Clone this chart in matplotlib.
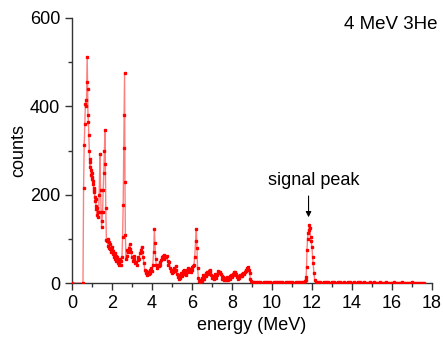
import matplotlib
matplotlib.use("Agg")
import matplotlib.pyplot as plt
from matplotlib.ticker import MultipleLocator

plt.rcParams['font.family'] = ['Liberation Sans', 'DejaVu Sans']

# ---- data ----
energy_low = [0.00, 0.55, 0.58, 0.61, 0.64, 0.67, 0.70, 0.72, 0.74, 0.76, 0.78, 0.80, 0.82, 0.84,
              0.86, 0.88, 0.90, 0.92, 0.94, 0.96, 0.98, 1.00, 1.02, 1.04, 1.06, 1.08, 1.10,
              1.12, 1.14, 1.16, 1.18, 1.20, 1.22, 1.24, 1.26, 1.28, 1.30, 1.33, 1.36, 1.40,
              1.43, 1.46, 1.48, 1.50, 1.53, 1.56, 1.59, 1.62, 1.65, 1.67, 1.69, 1.72, 1.75,
              1.78, 1.80, 1.83, 1.86, 1.89, 1.92, 1.95, 1.98, 2.01, 2.04, 2.07, 2.10, 2.13,
              2.16, 2.19, 2.22, 2.25, 2.28, 2.31, 2.34, 2.37, 2.40, 2.43, 2.46, 2.50, 2.53,
              2.56, 2.59, 2.61, 2.63, 2.65, 2.67, 2.70]
counts_low = [0, 0, 215, 312, 360, 405, 415, 400, 455, 512, 440, 380, 365, 335,
              300, 280, 262, 275, 255, 245, 250, 235, 240, 225, 230, 215, 205,
              210, 195, 185, 190, 175, 168, 155, 170, 160, 150, 160, 200, 292,
              210, 160, 127, 140, 160, 210, 250, 300, 346, 270, 170, 97, 95,
              100, 85, 92, 80, 88, 78, 70, 82, 75, 65, 72, 60, 68,
              55, 62, 50, 58, 45, 52, 40, 48, 55, 42, 50, 60, 105,
              177, 305, 380, 476, 229, 109, 55]

energy_mid = [2.73, 2.76, 2.80, 2.84, 2.88, 2.92, 2.96, 3.00, 3.04, 3.08, 3.12, 3.16, 3.20,
              3.24, 3.28, 3.32, 3.36, 3.40, 3.44, 3.48, 3.52, 3.56, 3.60, 3.64, 3.68, 3.72,
              3.76, 3.80, 3.84, 3.88, 3.92, 3.96, 4.00, 4.04, 4.08, 4.12, 4.15, 4.18, 4.22,
              4.26, 4.30, 4.34, 4.38, 4.42, 4.46, 4.50, 4.54, 4.58, 4.62, 4.66, 4.70, 4.74,
              4.78, 4.82, 4.86, 4.90, 4.94, 4.98, 5.02, 5.06, 5.10, 5.14, 5.18, 5.22, 5.26,
              5.30, 5.34, 5.38, 5.42, 5.46, 5.50, 5.54, 5.58, 5.62, 5.66, 5.70, 5.74, 5.78,
              5.82, 5.86, 5.90, 5.94, 5.98, 6.02, 6.06, 6.10, 6.14, 6.18, 6.22, 6.25, 6.28,
              6.32, 6.36]
counts_mid = [62, 75, 70, 80, 88, 78, 70, 58, 50, 62, 55, 45, 48,
              40, 52, 60, 55, 68, 75, 82, 70, 58, 45, 30, 22, 28,
              18, 25, 20, 30, 22, 35, 28, 40, 70, 122, 90, 55, 40,
              35, 42, 38, 48, 40, 52, 58, 62, 55, 64, 60, 58, 62,
              50, 42, 48, 35, 28, 22, 30, 25, 35, 28, 38, 30, 20,
              14, 10, 18, 12, 22, 16, 28, 20, 30, 22, 18, 30, 25,
              35, 28, 32, 26, 36, 30, 38, 42, 60, 95, 122, 80, 35,
              12, 5]

energy_tail = [6.40, 6.44, 6.48, 6.52, 6.56, 6.60, 6.64, 6.68, 6.72, 6.76, 6.80, 6.84, 6.88,
               6.92, 6.96, 7.00, 7.04, 7.08, 7.12, 7.16, 7.20, 7.24, 7.28, 7.32, 7.36, 7.40,
               7.44, 7.48, 7.52, 7.56, 7.60, 7.64, 7.68, 7.72, 7.76, 7.80, 7.84, 7.88, 7.92,
               7.96, 8.00, 8.04, 8.08, 8.12, 8.16, 8.20, 8.24, 8.28, 8.32, 8.36, 8.40, 8.44,
               8.48, 8.52, 8.56, 8.60, 8.64, 8.68, 8.72, 8.76, 8.80, 8.84, 8.88, 8.92, 8.96,
               9.00]
counts_tail = [2, 8, 4, 12, 18, 10, 15, 22, 16, 25, 20, 28, 30,
               24, 18, 12, 16, 10, 14, 20, 12, 18, 22, 28, 24, 26,
               20, 15, 10, 14, 8, 12, 6, 10, 14, 8, 12, 16, 10,
               18, 14, 20, 24, 18, 25, 20, 14, 10, 16, 12, 18, 15,
               20, 16, 22, 20, 26, 30, 28, 34, 36, 30, 22, 10, 4,
               2]

energy_flat1 = [9.1, 9.2, 9.3, 9.4, 9.5, 9.6, 9.7, 9.8, 9.9, 10.0, 10.1, 10.2, 10.3, 10.4,
                10.5, 10.6, 10.7, 10.8, 10.9, 11.0, 11.1, 11.2, 11.3, 11.4, 11.5, 11.6]
counts_flat1 = [3, 2, 2, 3, 1, 2, 3, 2, 2, 1, 3, 2, 2, 3,
                2, 1, 2, 2, 3, 2, 1, 2, 3, 2, 2, 3]

energy_signal = [11.64, 11.68, 11.71, 11.73, 11.75, 11.78, 11.81, 11.84, 11.87, 11.90, 11.93,
                 11.96, 12.00, 12.03, 12.06, 12.10, 12.14, 12.18]
counts_signal = [5, 8, 14, 37, 75, 100, 113, 120, 131, 125, 104,
                 95, 82, 60, 45, 22, 7, 3]

energy_flat2 = [12.3, 12.4, 12.5, 12.6, 12.7, 12.8, 12.9, 13.0, 13.1, 13.2, 13.3, 13.4, 13.5,
                13.6, 13.7, 13.8, 13.9, 14.0, 14.1, 14.2, 14.3, 14.4, 14.5, 14.6, 14.7, 14.8,
                14.9, 15.0, 15.1, 15.2, 15.3, 15.4, 15.5, 15.6, 15.7, 15.8, 15.9, 16.0, 16.1,
                16.2, 16.3, 16.4, 16.5, 16.6, 16.7, 16.8, 16.9, 17.0, 17.1, 17.2, 17.3, 17.4,
                17.5, 17.6]
counts_flat2 = [2, 2, 1, 2, 3, 2, 1, 2, 2, 1, 2, 2, 1,
                2, 1, 2, 2, 1, 2, 1, 2, 2, 1, 2, 1, 1,
                2, 1, 2, 1, 1, 2, 1, 1, 2, 1, 1, 1, 2,
                1, 1, 1, 2, 1, 1, 1, 1, 2, 1, 1, 1, 1,
                1, 1]

energy = energy_low + energy_mid + energy_tail + energy_flat1 + energy_signal + energy_flat2
counts = counts_low + counts_mid + counts_tail + counts_flat1 + counts_signal + counts_flat2

x_ticks = [0, 2, 4, 6, 8, 10, 12, 14, 16, 18]
y_ticks = [0, 200, 400, 600]

# ---- figure ----
fig = plt.figure(figsize=(4.43, 3.39), dpi=100)
ax = fig.add_axes([0.1625, 0.165, 0.8125, 0.782])

ax.plot(energy, counts, color='#ff0000', lw=1.0, alpha=0.5, zorder=2)
ax.plot(energy, counts, ls='none', marker='s', ms=1.6, color='#ff0000', mec='#ff0000',
        zorder=3)

ax.set_xlim(0, 18)
ax.set_ylim(0, 600)
ax.set_xticks(x_ticks)
ax.set_yticks(y_ticks)
ax.xaxis.set_minor_locator(MultipleLocator(1))
ax.yaxis.set_minor_locator(MultipleLocator(100))
ax.spines['top'].set_visible(False)
ax.spines['right'].set_visible(False)
for s in ('left', 'bottom'):
    ax.spines[s].set_color('#333333')
    ax.spines[s].set_linewidth(1.0)
ax.tick_params(which='major', direction='out', length=5, width=1, labelsize=13,
               color='#333333')
ax.tick_params(which='minor', direction='out', length=3, width=1, color='#333333')

ax.set_xlabel('energy (MeV)', fontsize=13, labelpad=4)
ax.set_ylabel('counts', fontsize=13, labelpad=2)

ax.annotate('', xy=(11.83, 149), xytext=(11.83, 197),
            arrowprops=dict(arrowstyle='-|>', color='black', lw=0.8,
                            mutation_scale=8, shrinkA=0, shrinkB=0))
ax.text(12.1, 233, 'signal peak', fontsize=13, ha='center', va='center')
ax.text(15.95, 586, '4 MeV 3He', fontsize=13.5, ha='center', va='center', clip_on=False)

fig.savefig('out.png', dpi=100)
